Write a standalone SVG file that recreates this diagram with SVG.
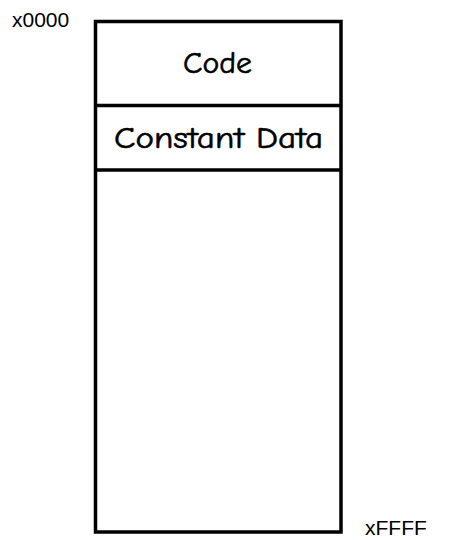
<svg xmlns="http://www.w3.org/2000/svg" width="451" height="540" viewBox="0 0 451 540">
<style>
.box{fill:#fff;stroke:#000;stroke-width:3.5}
.seg{fill:none;stroke:#000;stroke-width:3.5}
.lbl{font-family:"Comic Sans MS","Comic Neue","DejaVu Sans",sans-serif;font-size:30px;fill:#000;stroke:#000;stroke-width:0.6;text-anchor:middle}
.addr{font-family:"Liberation Sans",Arial,sans-serif;font-size:21px;fill:#000}
</style>
<rect width="451" height="540" fill="#fff"/>
<g id="memory">
<rect class="box" x="95.5" y="21.5" width="245.5" height="510.5"/>
</g>
<g id="code">
<line class="seg" x1="95.5" y1="105.5" x2="341" y2="105.5"/>
<text class="lbl" x="217.5" y="72.5" textLength="69" lengthAdjust="spacingAndGlyphs">Code</text>
</g>
<g id="constant-data">
<line class="seg" x1="95.5" y1="170" x2="341" y2="170"/>
<text class="lbl" x="218.5" y="148" textLength="209" lengthAdjust="spacingAndGlyphs">Constant Data</text>
</g>
<g id="addresses">
<text class="addr" x="12" y="26.5">x0000</text>
<text class="addr" x="365" y="535">xFFFF</text>
</g>
</svg>
